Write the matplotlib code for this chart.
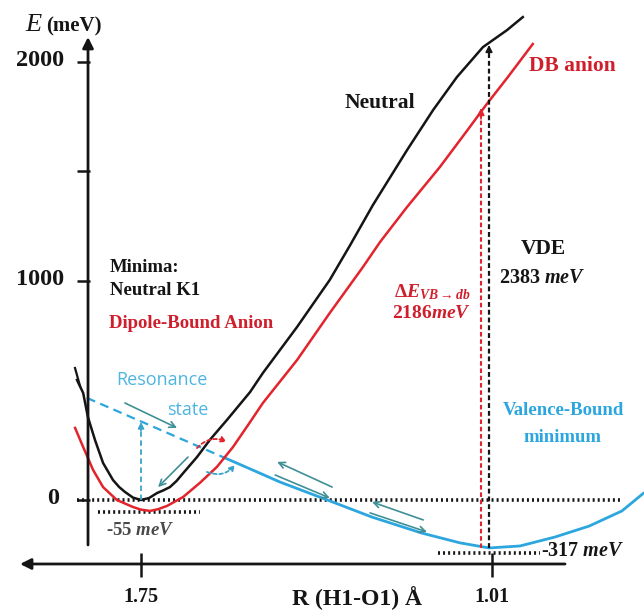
import matplotlib
matplotlib.use("Agg")
import matplotlib.pyplot as plt

# ---------------- data (R in Angstrom, E in meV) ----------------
neutral_R = [1.885, 1.872, 1.862, 1.847, 1.830, 1.809, 1.796, 1.784, 1.767, 1.750, 1.733, 1.716,
             1.703, 1.689, 1.675, 1.661, 1.632, 1.605, 1.569, 1.520, 1.493, 1.421, 1.352,
             1.309, 1.261, 1.189, 1.134, 1.084, 1.029, 0.978, 0.945]
neutral_E = [548, 489, 379, 274, 169, 91, 59, 37, 11, 0, 9, 32,
             44, 59, 87, 123, 196, 274, 365, 493, 580, 790, 1005,
             1164, 1347, 1598, 1781, 1931, 2068, 2146, 2205]

anion_R = [1.889, 1.872, 1.851, 1.830, 1.801, 1.767, 1.750, 1.731, 1.714, 1.695, 1.661, 1.626,
           1.590, 1.556, 1.520, 1.493, 1.421, 1.352, 1.282, 1.246, 1.189, 1.120, 1.063,
           1.021, 0.978, 0.924]
anion_E = [329, 242, 137, 59, 0, -32, -44, -50, -42, -27, 14, 78,
           151, 242, 356, 443, 639, 854, 1064, 1178, 1338, 1520, 1685,
           1808, 1927, 2082]

vb_dash_R = [1.864, 1.573]
vb_dash_E = [466, 192]
vb_R = [1.573, 1.520, 1.457, 1.368, 1.263, 1.158, 1.077, 1.016, 0.951, 0.877, 0.805, 0.736, 0.690]
vb_E = [192, 142, 82, 9, -78, -151, -196, -219, -210, -169, -119, -50, 32]

y_ticks = [0, 1000, 1500, 2000]
y_tick_labels = ["0", "1000", "", "2000"]
x_ticks = [1.75, 1.01]
x_tick_labels = ["1.75", "1.01"]

neutral_min_R = 1.75
neutral_min_E = 0
db_min_E = -55
vb_min_label = -317
vb_level_drawn = -242
vde_value = 2383
de_value = 2186
resonance_top_E = 356
de_arrow_top = 1790
vde_arrow_top = 2078

# ---------------- style ----------------
BLACK = "#151515"
RED = "#E2242C"
RED_T = "#CF1F2C"
BLUE = "#2CA6DE"
LBLUE = "#4DB5E2"
TEAL = "#3F8F96"
GRAY = "#4a4a4a"
SERIF = ["Liberation Serif", "DejaVu Serif"]

plt.rcParams["mathtext.fontset"] = "custom"
plt.rcParams["mathtext.rm"] = "Liberation Serif:bold"
plt.rcParams["mathtext.it"] = "Liberation Serif:italic:bold"
plt.rcParams["mathtext.bf"] = "Liberation Serif:bold"

fig = plt.figure(figsize=(6.44, 6.13), dpi=100)
ax = fig.add_axes([0, 0, 1, 1])
ax.set_xlim(2.0473, 0.6895)
ax.set_ylim(-516, 2283)
ax.axis("off")


def P(x, y):
    """layout helper: picture pixel position -> data coordinates (for text placement)"""
    return 1.75 - (x - 141) / 474.3, (500 - y) * 4.566


# ---------------- axes drawn as arrows ----------------
ax_x = P(88, 0)[0]
ax.annotate("", xy=(ax_x, P(0, 37)[1]), xytext=(ax_x, P(0, 545)[1]),
            arrowprops=dict(arrowstyle="-|>", lw=2.0, color=BLACK, mutation_scale=16,
                            shrinkA=0, shrinkB=0))
ax_y = P(0, 564)[1]
ax.annotate("", xy=(P(20, 0)[0], ax_y), xytext=(P(565, 0)[0], ax_y),
            arrowprops=dict(arrowstyle="-|>", lw=2.0, color=BLACK, mutation_scale=16,
                            shrinkA=0, shrinkB=0))

for yt, lab in zip(y_ticks, y_tick_labels):
    ax.plot([P(77, 0)[0], P(90, 0)[0]], [yt, yt], color=BLACK, lw=1.8, solid_capstyle="butt")
    if lab:
        rx = 64 if yt != 0 else 59
        ax.text(P(rx, 0)[0], yt + 5, lab, ha="right", va="center", fontsize=17.5,
                fontweight="bold", family=SERIF, color=BLACK)
for xt, lab in zip(x_ticks, x_tick_labels):
    ax.plot([xt, xt], [P(0, 553)[1], P(0, 577)[1]], color=BLACK, lw=1.8, solid_capstyle="butt")
    ax.text(xt, P(0, 597)[1], lab, ha="center", va="center", fontsize=14.5,
            fontweight="bold", family=SERIF, color=BLACK)

ax.text(*P(25, 25), "E", ha="left", va="center", fontsize=19, style="italic",
        family=SERIF, color=BLACK)
ax.text(*P(46, 26), "(meV)", ha="left", va="center", fontsize=15, fontweight="bold",
        family=SERIF, color=BLACK)
ax.text(*P(357, 598), "R (H1-O1) Å", ha="center", va="center", fontsize=17,
        fontweight="bold", family=SERIF, color=BLACK)

# ---------------- dotted reference levels ----------------
dot = dict(color=BLACK, lw=2.6, linestyle=(0, (0.55, 0.85)), dash_capstyle="butt")
ax.plot([P(77, 0)[0], P(620, 0)[0]], [neutral_min_E, neutral_min_E], **dot)
ax.plot([P(98, 0)[0], P(200, 0)[0]], [db_min_E, db_min_E], **dot)
ax.plot([P(438, 0)[0], P(540, 0)[0]], [vb_level_drawn, vb_level_drawn], **dot)

# ---------------- curves ----------------
ax.plot(vb_dash_R, vb_dash_E, color=BLUE, lw=1.6, linestyle=(0, (4, 2.5)))
ax.plot(vb_R, vb_E, color=BLUE, lw=2.0, solid_capstyle="round", solid_joinstyle="round")
ax.plot(anion_R, anion_E, color=RED, lw=1.8, solid_joinstyle="round")
ax.plot(neutral_R, neutral_E, color=BLACK, lw=1.8, solid_joinstyle="round")
# small start tick of the neutral curve
ax.plot([P(75, 0)[0], P(80, 0)[0]], [P(0, 368)[1], P(0, 386)[1]], color=BLACK, lw=1.6)

# ---------------- vertical dashed transitions ----------------
ax.plot([neutral_min_R, neutral_min_R], [neutral_min_E, resonance_top_E - 20],
        color="#3AA3C8", lw=1.3, linestyle=(0, (3, 2)))
ax.annotate("", xy=(neutral_min_R, resonance_top_E), xytext=(neutral_min_R, resonance_top_E - 40),
            arrowprops=dict(arrowstyle="-|>", lw=1.2, color="#3AA3C8", mutation_scale=9,
                            shrinkA=0, shrinkB=0))

red_x = P(481, 0)[0]
ax.plot([red_x, red_x], [vb_E[7], de_arrow_top - 30], color=RED, lw=1.5,
        linestyle=(0, (2.2, 1.3)))
ax.annotate("", xy=(red_x, de_arrow_top), xytext=(red_x, de_arrow_top - 50),
            arrowprops=dict(arrowstyle="-|>", lw=1.2, color=RED, mutation_scale=10,
                            shrinkA=0, shrinkB=0))
blk_x = P(489, 0)[0]
ax.plot([blk_x, blk_x], [vb_E[7], vde_arrow_top - 30], color=BLACK, lw=1.6,
        linestyle=(0, (2.2, 1.3)))
ax.annotate("", xy=(blk_x, vde_arrow_top), xytext=(blk_x, vde_arrow_top - 50),
            arrowprops=dict(arrowstyle="-|>", lw=1.2, color=BLACK, mutation_scale=10,
                            shrinkA=0, shrinkB=0))

# ---------------- teal motion arrows ----------------
teal_arrows = [
    ((1.784, 443), (1.674, 329)),
    ((1.651, 196), (1.714, 59)),
    ((1.347, 59), (1.463, 174)),
    ((1.467, 114), (1.352, 9)),
    ((1.155, -91), (1.263, -9)),
    ((1.267, -59), (1.147, -146)),
]
for tail, tip in teal_arrows:
    ax.annotate("", xy=tip, xytext=tail,
                arrowprops=dict(arrowstyle="->", lw=1.2, color=TEAL, mutation_scale=11,
                                shrinkA=0, shrinkB=0))

# crossing-seam dashed arcs
ax.annotate("", xy=(1.569, 265), xytext=(1.632, 237),
            arrowprops=dict(arrowstyle="-|>", lw=1.3, color=RED, linestyle=(0, (2, 1.5)),
                            mutation_scale=8, shrinkA=0, shrinkB=0,
                            connectionstyle="arc3,rad=-0.35"))
ax.annotate("", xy=(1.552, 160), xytext=(1.611, 128),
            arrowprops=dict(arrowstyle="-|>", lw=1.3, color="#3AA3C8", linestyle=(0, (2, 1.5)),
                            mutation_scale=8, shrinkA=0, shrinkB=0,
                            connectionstyle="arc3,rad=0.35"))

# ---------------- labels ----------------
ax.text(*P(110, 268), "Minima:", ha="left", va="center", fontsize=13.5, fontweight="bold",
        family=SERIF, color=BLACK)
ax.text(*P(110, 291), "Neutral K1", ha="left", va="center", fontsize=13.5, fontweight="bold",
        family=SERIF, color=BLACK)
ax.text(*P(109, 324), "Dipole-Bound Anion", ha="left", va="center", fontsize=13.5,
        fontweight="bold", family=SERIF, color=RED_T)
ax.text(*P(345, 103), "Neutral", ha="left", va="center", fontsize=15.5, fontweight="bold",
        family=SERIF, color=BLACK)
ax.text(*P(529, 66), "DB anion", ha="left", va="center", fontsize=15.5, fontweight="bold",
        family=SERIF, color=RED_T)
ax.text(*P(521, 249), "VDE", ha="left", va="center", fontsize=15.5, fontweight="bold",
        family=SERIF, color=BLACK)
ax.text(*P(499, 278), f"{vde_value} $\\mathit{{meV}}$", ha="left", va="center", fontsize=14.5,
        fontweight="bold", family=SERIF, color=BLACK)
ax.text(*P(432, 292), r"$\Delta E_{VB\rightarrow db}$", ha="center", va="center", fontsize=14,
        family=SERIF, color=RED_T)
ax.text(*P(432, 314), f"{de_value}$\\mathit{{meV}}$", ha="center", va="center", fontsize=14,
        fontweight="bold", family=SERIF, color=RED_T)
ax.text(*P(116, 380), "Resonance", ha="left", va="center", fontsize=13,
        family=["Open Sans", "DejaVu Sans"], color=LBLUE)
ax.text(*P(167, 410), "state", ha="left", va="center", fontsize=13,
        family=["Open Sans", "DejaVu Sans"], color=LBLUE)
ax.text(*P(563, 411), "Valence-Bound", ha="center", va="center", fontsize=13.5,
        fontweight="bold", family=SERIF, color=BLUE)
ax.text(*P(562, 438), "minimum", ha="center", va="center", fontsize=13.5,
        fontweight="bold", family=SERIF, color=BLUE)
ax.text(*P(106, 531), f"{db_min_E} $\\mathit{{meV}}$", ha="left", va="center", fontsize=13.5,
        fontweight="bold", family=SERIF, color=GRAY)
ax.text(*P(541, 551), f"{vb_min_label} $\\mathit{{meV}}$", ha="left", va="center",
        fontsize=14.5, fontweight="bold", family=SERIF, color=BLACK)

fig.savefig("out.png", dpi=100)
